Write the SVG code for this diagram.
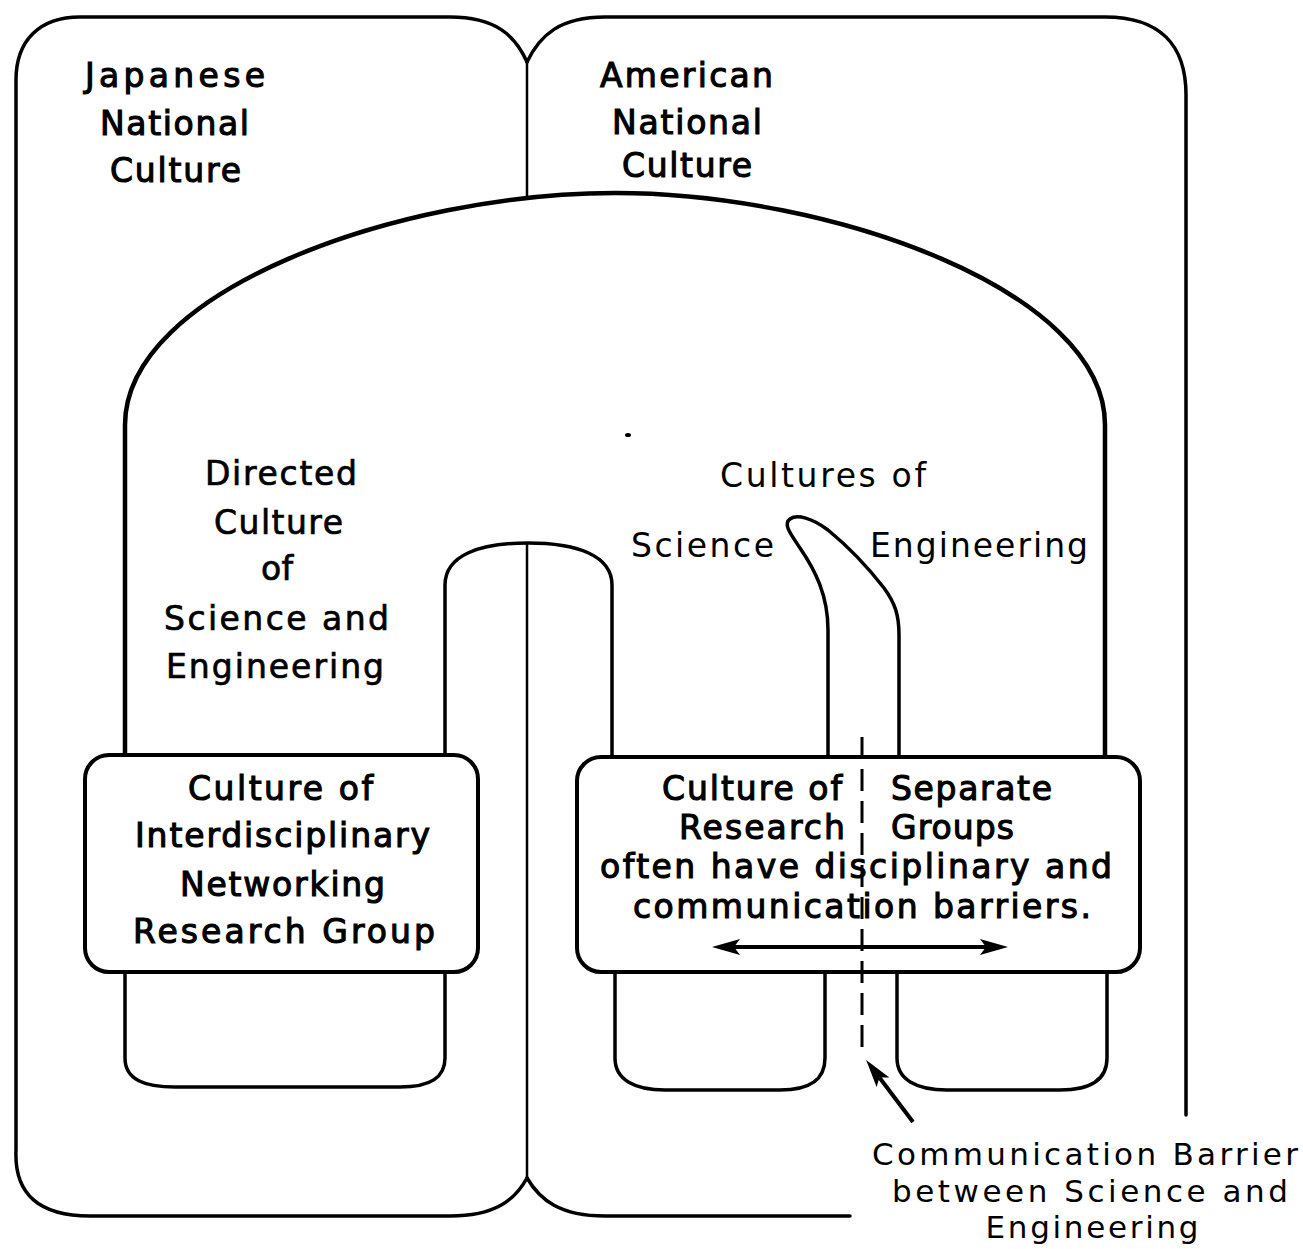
<svg xmlns="http://www.w3.org/2000/svg" width="1303" height="1249" viewBox="0 0 1303 1249">
  <defs>
    <style>
      .ol { fill: none; stroke: #000; stroke-width: 3.5; stroke-linejoin: round; stroke-linecap: round; }
      .top { stroke-width: 4.5; }
      .thin { fill: none; stroke: #000; stroke-width: 2.5; }
      .box { fill: #fff; stroke: #000; stroke-width: 4; }
      .dash { fill: none; stroke: #000; stroke-width: 3; stroke-dasharray: 22 10; }
      .arr { fill: none; stroke: #000; stroke-width: 4; }
      text { font-family: "DejaVu Sans", "Liberation Sans", Arial, sans-serif; font-size: 33px; fill: #000; text-anchor: middle; }
      .hv { stroke: #000; stroke-width: 1.1; }
      .md { stroke: #000; stroke-width: 0.7; }
      .lt { font-size: 31px; }
    </style>
    <marker id="head" viewBox="0 0 28 18" markerWidth="28" markerHeight="18" refX="6" refY="9" orient="auto-start-reverse" markerUnits="userSpaceOnUse">
      <path d="M0,1 L28,9 L0,17 L6,9 Z" fill="#000"/>
    </marker>
  </defs>

  <rect width="1303" height="1249" fill="#fff"/>

  <!-- Japanese national culture -->
  <g id="japanese-culture">
    <path class="ol" d="M527,62 C515,35 495,17 450,17 H80 C40,17 16,40 16,80 V1150 C14,1195 40,1216 90,1216 H450 C495,1216 515,1200 527,1178"/>
    <text class="hv" x="175" y="87" textLength="180" lengthAdjust="spacing">Japanese</text>
    <text class="hv" x="174.5" y="135" textLength="149" lengthAdjust="spacing">National</text>
    <text class="hv" x="175.5" y="182" textLength="131" lengthAdjust="spacing">Culture</text>
  </g>

  <!-- American national culture -->
  <g id="american-culture">
    <path class="ol" d="M527,62 C540,35 560,17 605,17 H1105 C1160,17 1186,45 1186,95 V1115"/>
    <path class="ol" d="M527,1178 C540,1200 560,1216 605,1216 H850"/>
    <text class="hv" x="686.5" y="87" textLength="173" lengthAdjust="spacing">American</text>
    <text class="hv" x="687" y="134" textLength="150" lengthAdjust="spacing">National</text>
    <text class="hv" x="687" y="177" textLength="130" lengthAdjust="spacing">Culture</text>
  </g>

  <!-- shared border between the two nations -->
  <g id="national-border">
    <path class="thin" d="M527,62 V197"/>
    <path class="thin" d="M527,543 V1178"/>
  </g>

  <!-- culture of science and engineering (dome) -->
  <g id="science-engineering-dome">
    <path class="ol top" d="M125,757 V425 C125,290 400,193 615,193 C830,193 1105,290 1105,425 V757"/>
    <path class="ol" d="M445,757 V585 C445,555 480,543 528,543 C576,543 612,555 612,585 V757"/>
    <ellipse cx="628" cy="435" rx="3" ry="2" fill="#000"/>
  </g>

  <!-- directed culture label -->
  <g id="directed-culture">
    <text class="md" x="281" y="485" textLength="152" lengthAdjust="spacing">Directed</text>
    <text class="md" x="278.5" y="534" textLength="129" lengthAdjust="spacing">Culture</text>
    <text class="md" x="277" y="580" textLength="32" lengthAdjust="spacing">of</text>
    <text class="md" x="276.5" y="630" textLength="225" lengthAdjust="spacing">Science and</text>
    <text class="md" x="275" y="678" textLength="218" lengthAdjust="spacing">Engineering</text>
  </g>

  <!-- cultures of science / engineering split -->
  <g id="cultures-split">
    <path class="ol" d="M828,757 V630 C828,595 815,570 800,548 C790,533 783,524 790,519 C797,514 812,518 828,530 C850,548 870,570 884,588 C895,603 899,615 899,635 V757"/>
    <text x="823" y="487" textLength="206" lengthAdjust="spacing">Cultures of</text>
    <text x="702.5" y="557" textLength="143" lengthAdjust="spacing">Science</text>
    <text x="979" y="557" textLength="218" lengthAdjust="spacing">Engineering</text>
  </g>

  <!-- interdisciplinary networking research group -->
  <g id="networking-group">
    <path class="ol" d="M125,972 V1058 C125,1080 145,1087 175,1087 H400 C430,1087 445,1078 445,1058 V972"/>
    <rect class="box" x="85" y="755" width="393" height="217" rx="24"/>
    <text class="hv" x="280.5" y="800" textLength="185" lengthAdjust="spacing">Culture of</text>
    <text class="hv" x="282.5" y="847" textLength="295" lengthAdjust="spacing">Interdisciplinary</text>
    <text class="hv" x="282.5" y="896" textLength="205" lengthAdjust="spacing">Networking</text>
    <text class="hv" x="284" y="943" textLength="302" lengthAdjust="spacing">Research Group</text>
  </g>

  <!-- separate research groups -->
  <g id="separate-groups">
    <path class="ol" d="M615,972 V1058 C615,1080 635,1090 665,1090 H780 C810,1090 825,1080 825,1058 V972"/>
    <path class="ol" d="M897,972 V1058 C897,1080 917,1090 947,1090 H1060 C1090,1090 1107,1080 1107,1058 V972"/>
    <rect class="box" x="577" y="757" width="563" height="215" rx="24"/>
    <text class="hv" x="752" y="800" textLength="180" lengthAdjust="spacing">Culture of</text>
    <text class="hv" x="971.5" y="800" textLength="161" lengthAdjust="spacing">Separate</text>
    <text class="hv" x="762" y="839" textLength="166" lengthAdjust="spacing">Research</text>
    <text class="hv" x="952.5" y="839" textLength="123" lengthAdjust="spacing">Groups</text>
    <text class="hv" x="856" y="878" textLength="512" lengthAdjust="spacing">often have disciplinary and</text>
    <text class="hv" x="862" y="918" textLength="458" lengthAdjust="spacing">communication barriers.</text>
  </g>

  <!-- barrier label -->
  <g id="barrier-label">
    <text class="lt" x="1085" y="1165" textLength="426" lengthAdjust="spacing">Communication Barrier</text>
    <text class="lt" x="1090" y="1202" textLength="396" lengthAdjust="spacing">between Science and</text>
    <text class="lt" x="1092" y="1238" textLength="213" lengthAdjust="spacing">Engineering</text>
  </g>

  <!-- connectors: barrier line and arrows -->
  <g id="connectors">
    <path class="dash" d="M862,737 V1052"/>
    <line class="arr" x1="734" y1="947" x2="986" y2="947" marker-start="url(#head)" marker-end="url(#head)"/>
    <line class="arr" x1="913" y1="1122" x2="879.4" y2="1077.5" stroke-width="5" marker-end="url(#head)"/>
  </g>
</svg>
